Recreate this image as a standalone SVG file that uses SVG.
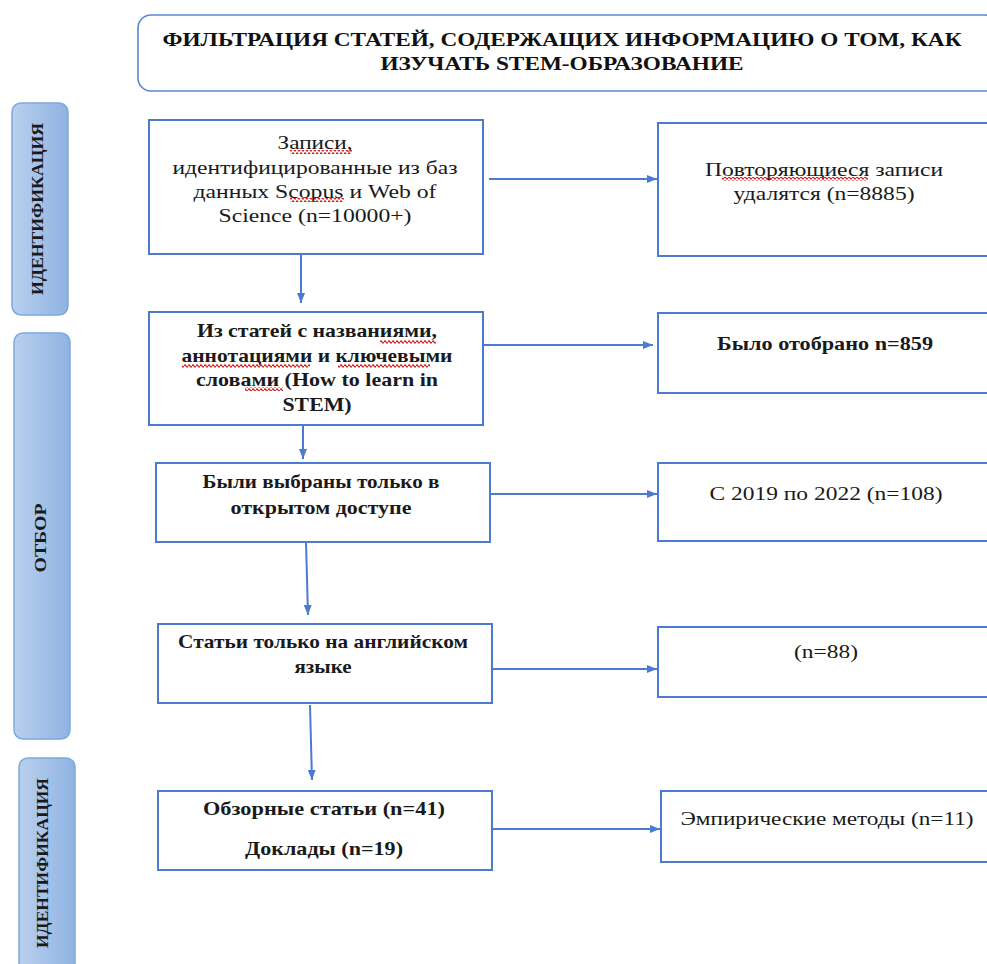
<svg xmlns="http://www.w3.org/2000/svg" width="987" height="964" viewBox="0 0 987 964">
<style>
.box{fill:#ffffff;stroke:#4a7bd0;stroke-width:2}
.title{fill:#ffffff;stroke:#5b86d3;stroke-width:1.6}
.lane{fill:url(#laneGrad);stroke:#7fa8de;stroke-width:1.5}
.t{font-family:"Liberation Serif","Times New Roman",serif;font-size:19px;fill:#1a1a1a;text-anchor:middle}
.b{font-weight:bold}
.tt{font-family:"Liberation Serif","Times New Roman",serif;font-size:18px;font-weight:bold;fill:#111;text-anchor:middle}
.lt{font-family:"Liberation Serif","Times New Roman",serif;font-size:17px;font-weight:bold;fill:#1a1a1a;text-anchor:middle}
.c{fill:none;stroke:#4a7bd0;stroke-width:2;marker-end:url(#arr)}
.sq{fill:url(#wave)}
</style>
<defs>
<linearGradient id="laneGrad" x1="0" y1="0" x2="1" y2="0">
<stop offset="0" stop-color="#b9d0ee"/>
<stop offset="1" stop-color="#8fb3e2"/>
</linearGradient>
<marker id="arr" markerWidth="10" markerHeight="8" refX="10" refY="4" orient="auto" markerUnits="userSpaceOnUse">
<path d="M0,0 L10,4 L0,8 z" fill="#4a7bd0"/>
</marker>
<pattern id="wave" width="4" height="4" patternUnits="userSpaceOnUse">
<path d="M0,2 Q1,0 2,2 T4,2" fill="none" stroke="#d81e1e" stroke-width="1.3"/>
</pattern>
</defs>

<g id="title">
<rect class="title" x="138" y="15" width="860" height="76" rx="13"/>
<text class="tt" x="562" y="46" textLength="799" lengthAdjust="spacingAndGlyphs">ФИЛЬТРАЦИЯ СТАТЕЙ, СОДЕРЖАЩИХ ИНФОРМАЦИЮ О ТОМ, КАК</text>
<text class="tt" x="562" y="70" textLength="363" lengthAdjust="spacingAndGlyphs">ИЗУЧАТЬ STEM-ОБРАЗОВАНИЕ</text>
</g>

<g id="lane1">
<rect class="lane" x="12" y="103" width="56" height="212" rx="9"/>
<text class="lt" transform="translate(37,209) rotate(-90)" x="0" y="6" textLength="172" lengthAdjust="spacingAndGlyphs">ИДЕНТИФИКАЦИЯ</text>
</g>
<g id="lane2">
<rect class="lane" x="14" y="333" width="56" height="406" rx="9"/>
<text class="lt" transform="translate(40,538) rotate(-90)" x="0" y="6" textLength="69" lengthAdjust="spacingAndGlyphs">ОТБОР</text>
</g>
<g id="lane3">
<rect class="lane" x="19" y="758" width="56" height="220" rx="9"/>
<text class="lt" transform="translate(42,863) rotate(-90)" x="0" y="6" textLength="170" lengthAdjust="spacingAndGlyphs">ИДЕНТИФИКАЦИЯ</text>
</g>

<g id="boxA">
<rect class="box" x="149" y="120" width="334" height="134"/>
<text class="t" x="315" y="149" textLength="75" lengthAdjust="spacingAndGlyphs">Записи,</text>
<text class="t" x="315" y="174" textLength="285" lengthAdjust="spacingAndGlyphs">идентифицированные из баз</text>
<text class="t" x="315" y="198" textLength="243" lengthAdjust="spacingAndGlyphs">данных Scopus и Web of</text>
<text class="t" x="315" y="222" textLength="193" lengthAdjust="spacingAndGlyphs">Science (n=10000+)</text>
<rect class="sq" x="290" y="150" width="62" height="4"/>
<rect class="sq" x="290" y="198" width="54" height="4"/>
</g>

<g id="boxB">
<rect class="box" x="149" y="312" width="334" height="113"/>
<text class="t b" x="317" y="337" textLength="240" lengthAdjust="spacingAndGlyphs">Из статей с названиями,</text>
<text class="t b" x="317" y="362" textLength="271" lengthAdjust="spacingAndGlyphs">аннотациями и ключевыми</text>
<text class="t b" x="317" y="386" textLength="242" lengthAdjust="spacingAndGlyphs">словами (How to learn in</text>
<text class="t b" x="317" y="411" textLength="69" lengthAdjust="spacingAndGlyphs">STEM)</text>
<rect class="sq" x="380" y="340" width="56" height="4"/>
<rect class="sq" x="182" y="364" width="128" height="4"/>
<rect class="sq" x="338" y="364" width="92" height="4"/>
<rect class="sq" x="245" y="387" width="38" height="4"/>
</g>

<g id="boxC">
<rect class="box" x="156" y="463" width="334" height="79"/>
<text class="t b" x="321" y="488" textLength="237" lengthAdjust="spacingAndGlyphs">Были выбраны только в</text>
<text class="t b" x="321" y="514" textLength="181" lengthAdjust="spacingAndGlyphs">открытом доступе</text>
</g>

<g id="boxD">
<rect class="box" x="158" y="624" width="334" height="79"/>
<text class="t b" x="323" y="648" textLength="290" lengthAdjust="spacingAndGlyphs">Статьи только на английском</text>
<text class="t b" x="323" y="673" textLength="57" lengthAdjust="spacingAndGlyphs">языке</text>
</g>

<g id="boxE">
<rect class="box" x="158" y="791" width="334" height="79"/>
<text class="t b" x="324" y="815" textLength="242" lengthAdjust="spacingAndGlyphs">Обзорные статьи (n=41)</text>
<text class="t b" x="324" y="855" textLength="158" lengthAdjust="spacingAndGlyphs">Доклады (n=19)</text>
</g>

<g id="boxR1">
<rect class="box" x="658" y="123" width="340" height="133"/>
<text class="t" x="824" y="176" textLength="238" lengthAdjust="spacingAndGlyphs">Повторяющиеся записи</text>
<text class="t" x="824" y="200" textLength="181" lengthAdjust="spacingAndGlyphs">удалятся (n=8885)</text>
<rect class="sq" x="722" y="177" width="146" height="4"/>
</g>

<g id="boxR2">
<rect class="box" x="658" y="313" width="340" height="80"/>
<text class="t b" x="825" y="350" textLength="216" lengthAdjust="spacingAndGlyphs">Было отобрано n=859</text>
</g>

<g id="boxR3">
<rect class="box" x="658" y="463" width="340" height="78"/>
<text class="t" x="826" y="500" textLength="233" lengthAdjust="spacingAndGlyphs">С 2019 по 2022 (n=108)</text>
</g>

<g id="boxR4">
<rect class="box" x="658" y="627" width="340" height="70"/>
<text class="t" x="826" y="658" textLength="64" lengthAdjust="spacingAndGlyphs">(n=88)</text>
</g>

<g id="boxR5">
<rect class="box" x="661" y="791" width="337" height="71"/>
<text class="t" x="827" y="825" textLength="293" lengthAdjust="spacingAndGlyphs">Эмпирические методы (n=11)</text>
</g>

<g id="connectors">
<path class="c" d="M301,254 L301,303"/>
<path class="c" d="M303,426 L303,459"/>
<path class="c" d="M306,542 L308,615"/>
<path class="c" d="M310,705 L312,780"/>
<path class="c" d="M489,179 L657,179"/>
<path class="c" d="M484,345 L653,345"/>
<path class="c" d="M491,494 L657,494"/>
<path class="c" d="M493,669 L657,669"/>
<path class="c" d="M493,829 L660,829"/>
</g>
</svg>
